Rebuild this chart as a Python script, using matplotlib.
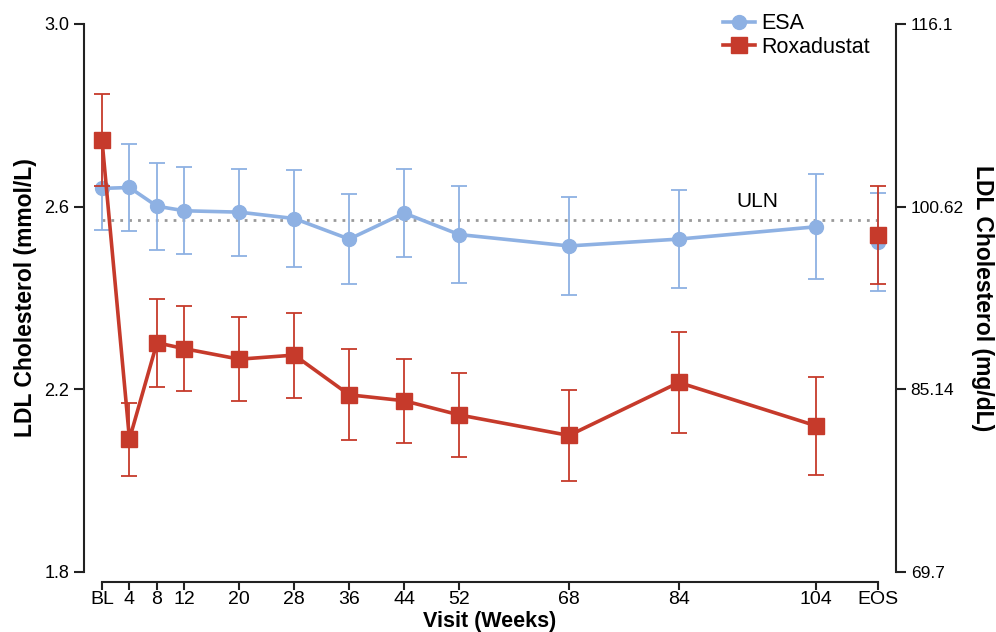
import matplotlib
matplotlib.use("Agg")
import matplotlib.pyplot as plt
from matplotlib.lines import Line2D

# visit weeks (BL = 0), EOS is shown as an extra point after week 104
weeks = [0, 4, 8, 12, 20, 28, 36, 44, 52, 68, 84, 104]
tick_labels = ["BL", "4", "8", "12", "20", "28", "36", "44", "52", "68", "84", "104", "EOS"]

esa_mean = [2.64, 2.642, 2.601, 2.591, 2.588, 2.574, 2.529, 2.586, 2.539, 2.514, 2.529, 2.556]
esa_err = [0.092, 0.095, 0.095, 0.095, 0.095, 0.107, 0.098, 0.096, 0.107, 0.107, 0.107, 0.115]
esa_eos, esa_eos_err = 2.523, 0.108

roxa_mean = [2.746, 2.091, 2.302, 2.289, 2.266, 2.275, 2.188, 2.175, 2.144, 2.099, 2.215, 2.120]
roxa_err = [0.10, 0.08, 0.096, 0.093, 0.092, 0.093, 0.10, 0.092, 0.092, 0.10, 0.11, 0.108]
roxa_eos, roxa_eos_err = 2.538, 0.107

uln = 2.57
mmol_to_mgdl = 38.7
left_ticks = [1.8, 2.2, 2.6, 3.0]
right_tick_labels = ["69.7", "85.14", "100.62", "116.1"]

EOS_X = 113
BLUE = "#8eb1e3"
RED = "#c63a2b"

plt.rcParams["font.family"] = ["Liberation Sans", "DejaVu Sans"]

fig = plt.figure(figsize=(9.96, 6.32), dpi=100)
ax = fig.add_axes([102 / 996, 60 / 632, 776 / 996, 548 / 632])

# ULN reference line
ax.axhline(uln, color="#999999", linestyle=(0, (1, 2.2)), linewidth=2, zorder=1)
ax.text(95.5, uln + 0.02, "ULN", fontsize=15, ha="center", va="bottom")

err_kw = dict(elinewidth=1.3, capsize=6, capthick=1.3)

# ESA
for x, y, e, ls in [(weeks, esa_mean, esa_err, "-"), ([EOS_X], [esa_eos], [esa_eos_err], "none")]:
    lines = ax.errorbar(x, y, yerr=e, color=BLUE, marker="o", markersize=10,
                        linewidth=2.6, linestyle=ls, zorder=2, **err_kw)
    for art in lines.get_children():
        art.set_clip_on(False)

# Roxadustat
for x, y, e, ls in [(weeks, roxa_mean, roxa_err, "-"), ([EOS_X], [roxa_eos], [roxa_eos_err], "none")]:
    lines = ax.errorbar(x, y, yerr=e, color=RED, marker="s", markersize=11,
                        linewidth=2.6, linestyle=ls, zorder=3, **err_kw)
    for art in lines.get_children():
        art.set_clip_on(False)

ax.set_xlim(0, EOS_X)
ax.set_ylim(1.8, 3.0)

for side in ["top", "right"]:
    ax.spines[side].set_visible(False)
ax.spines["left"].set_position(("outward", 13))
ax.spines["bottom"].set_position(("outward", 7))
ax.spines["bottom"].set_bounds(0, EOS_X)
for sp in ["left", "bottom"]:
    ax.spines[sp].set_linewidth(1.5)
    ax.spines[sp].set_color("#222222")
ax.tick_params(axis="y", labelsize=13, width=1.5, length=7, color="#222222")
ax.tick_params(axis="x", labelsize=14, width=1.5, length=6, pad=1, color="#222222")

ax.set_xticks(weeks + [EOS_X])
ax.set_xticklabels(tick_labels, family=["Liberation Sans Narrow", "Liberation Sans"],
                   fontsize=14)
ax.set_yticks(left_ticks)
ax.set_yticklabels([f"{t:.1f}" for t in left_ticks])

ax.set_xlabel("Visit (Weeks)", fontsize=15.5, fontweight="bold", labelpad=2)
ax.set_ylabel("LDL Cholesterol (mmol/L)", fontsize=16.5, fontweight="bold", labelpad=5)

# right axis in mg/dL
ax2 = ax.twinx()
ax2.set_ylim(1.8 * mmol_to_mgdl, 3.0 * mmol_to_mgdl)
for side in ["top", "left", "bottom"]:
    ax2.spines[side].set_visible(False)
ax2.spines["right"].set_position(("outward", 13))
ax2.spines["right"].set_linewidth(1.5)
ax2.spines["right"].set_color("#222222")
ax2.tick_params(axis="y", labelsize=12.5, width=1.5, length=7, color="#222222")
ax2.set_yticks([t * mmol_to_mgdl for t in left_ticks])
ax2.set_yticklabels(right_tick_labels)
ax2.set_ylabel("LDL Cholesterol (mg/dL)", fontsize=16.5, fontweight="bold",
               rotation=270, labelpad=22)

handles = [Line2D([], [], color=BLUE, marker="o", markersize=10, linewidth=2.6),
           Line2D([], [], color=RED, marker="s", markersize=11, linewidth=2.6)]
ax.legend(handles, ["ESA", "Roxadustat"], loc="upper right", bbox_to_anchor=(1.0, 1.035),
          frameon=False, fontsize=15.5, handlelength=1.5, handletextpad=0.25,
          labelspacing=0.1, borderaxespad=0)

fig.savefig("out.png", dpi=100)
